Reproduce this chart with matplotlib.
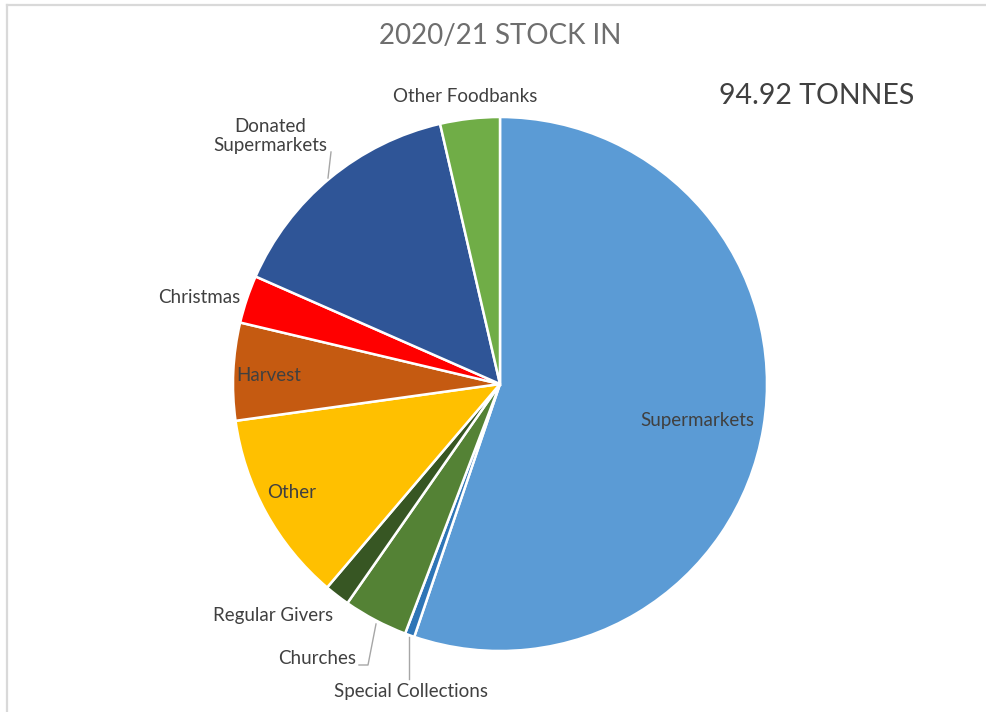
import matplotlib.pyplot as plt
from matplotlib.lines import Line2D

# stock in for 2020/21, tonnes
sources = ["Supermarkets", "Special Collections", "Churches", "Regular Givers", "Other",
           "Harvest", "Christmas", "Donated\nSupermarkets", "Other Foodbanks"]
tonnes = [52.40, 0.55, 3.70, 1.45, 11.00, 5.60, 2.75, 14.05, 3.42]
colours = ["#5B9BD5", "#2E75B6", "#548235", "#375623", "#FFC000",
           "#C55A11", "#FF0000", "#2F5597", "#70AD47"]
total = 94.92

W, H = 987, 712
fig = plt.figure(figsize=(W / 100, H / 100), dpi=100)
ax = fig.add_axes([0, 0, 1, 1])

cx, cy, r = 500, H - 384, 267
ax.pie(tonnes, colors=colours, startangle=90, counterclock=False,
       center=(cx, cy), radius=r, frame=True,
       wedgeprops=dict(edgecolor="white", linewidth=1.8))
ax.set_xlim(0, W)
ax.set_ylim(0, H)
ax.set_aspect("equal")
ax.axis("off")

lab = dict(fontsize=13.5, color="#404040", family="Lato", ha="center", va="center")
# (x, y) from top-left, pixels
spots = {
    "Supermarkets": (697, 421),
    "Special Collections": (411, 691),
    "Churches": (317, 658),
    "Regular Givers": (273, 615),
    "Other": (292, 492),
    "Harvest": (269, 376),
    "Christmas": (199, 298),
    "Donated\nSupermarkets": (270, 136),
    "Other Foodbanks": (465, 97),
}
for name in sources:
    x, y = spots[name]
    ax.text(x, H - y, name, linespacing=1.1, **lab)

# leader lines
grey = "#A6A6A6"
for xs, ys in [([328, 331], [178, 152]),
               ([359, 368, 376], [665, 665, 624]),
               ([409, 409], [679, 637])]:
    ax.add_line(Line2D(xs, [H - v for v in ys], color=grey, lw=1))

ax.text(500, H - 36, "2020/21 STOCK IN", fontsize=20, color="#6E6E6E",
        family="Lato", ha="center", va="center")
ax.text(817, H - 96, "%.2f TONNES" % total, fontsize=20.5, color="#404040",
        family="Lato", ha="center", va="center")

# chart frame
ax.add_line(Line2D([6.5, W], [H - 4.5, H - 4.5], color="#D9D9D9", lw=1.6))
ax.add_line(Line2D([6.5, 6.5], [0, H - 4.5], color="#D9D9D9", lw=1.6))

fig.savefig("out.png", dpi=100)
